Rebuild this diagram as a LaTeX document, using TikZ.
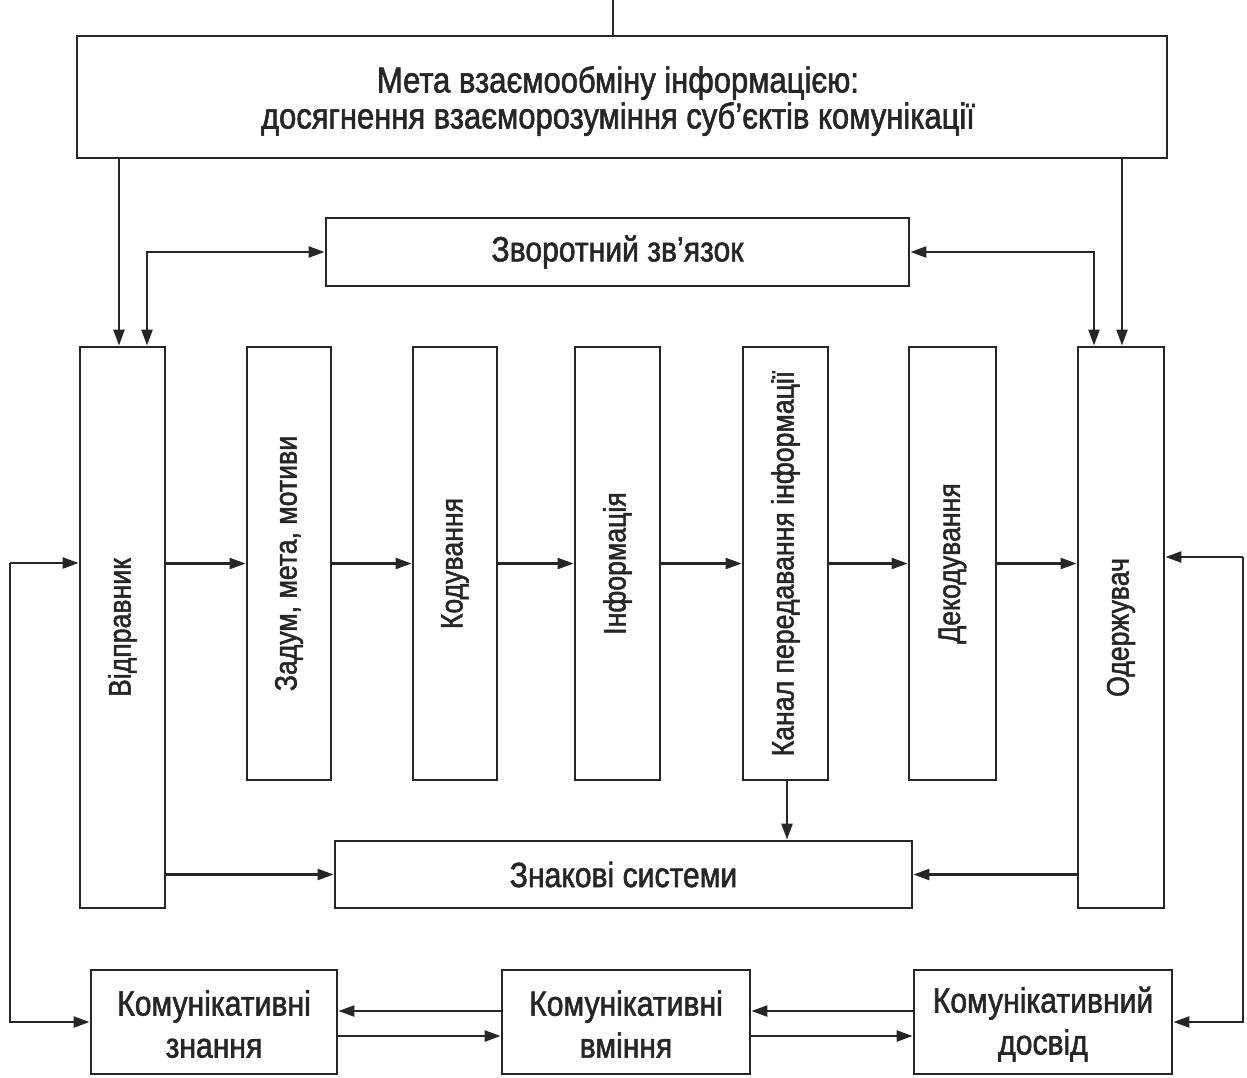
\documentclass[tikz,border=0pt]{standalone}
\usepackage{fontspec}
\setmainfont{Liberation Sans}[FakeStretch=0.86, FakeBold=1.6]
\usetikzlibrary{arrows.meta}
\definecolor{ink}{HTML}{262626}
\tikzset{
  box/.style={draw=ink, line width=2.8pt, inner sep=0pt, anchor=center},
  txt/.style={inner sep=0pt, text=ink, align=center},
  vtext/.style={rotate=90, inner sep=0pt, text=ink, font=\fontsize{31}{36}\selectfont},
  tip/.tip={Triangle[length=16pt,width=11pt]},
  arr/.style={draw=ink, line width=2.3pt, -tip},
  arrb/.style={draw=ink, line width=2.3pt, tip-tip},
  ln/.style={draw=ink, line width=2.3pt},
}
\begin{document}
\begin{tikzpicture}[x=1pt,y=-1pt]
\useasboundingbox (0,0) rectangle (1247,1077);
% boxes
\node[box, minimum width=1090pt, minimum height=122pt] (goal) at (622,97) {};
\node[box, minimum width=583pt, minimum height=68pt] (fb) at (617.5,252) {};
\node[box, minimum width=85pt, minimum height=561pt] (sender) at (122.5,627.5) {};
\node[box, minimum width=84pt, minimum height=433pt] (idea) at (289,563.5) {};
\node[box, minimum width=84pt, minimum height=433pt] (code) at (455,563.5) {};
\node[box, minimum width=85pt, minimum height=433pt] (info) at (617.5,563.5) {};
\node[box, minimum width=85pt, minimum height=433pt] (chan) at (785.5,563.5) {};
\node[box, minimum width=87pt, minimum height=433pt] (decode) at (952.5,563.5) {};
\node[box, minimum width=86pt, minimum height=561pt] (recv) at (1121,627.5) {};
\node[box, minimum width=577pt, minimum height=67pt] (signs) at (623.5,874.5) {};
\node[box, minimum width=246pt, minimum height=104pt] (know) at (214,1022) {};
\node[box, minimum width=248pt, minimum height=104pt] (skill) at (626,1022) {};
\node[box, minimum width=258pt, minimum height=104pt] (exp) at (1043,1022) {};
% texts
\node[txt, font=\fontsize{36}{36}\selectfont] (goal-t) at (618,101)
  {Мета взаємообміну інформацією:\\досягнення взаєморозуміння суб'єктів комунікації};
\node[txt, font=\fontsize{35}{36}\selectfont] (fb-t) at (fb) {Зворотний зв'язок};
\node[txt, font=\fontsize{35}{36}\selectfont] (signs-t) at (signs) {Знакові системи};
\node[txt, font=\fontsize{35}{42}\selectfont] (know-t) at (214,1024) {Комунікативні\\знання};
\node[txt, font=\fontsize{35}{42}\selectfont] (skill-t) at (626,1024) {Комунікативні\\вміння};
\node[txt, font=\fontsize{35}{42}\selectfont] (exp-t) at (1043,1024) {Комунікативний\\досвід};
\node[vtext] (sender-t) at (sender) {Відправник};
\node[vtext] (idea-t) at (idea) {Задум, мета, мотиви};
\node[vtext] (code-t) at (code) {Кодування};
\node[vtext] (info-t) at (info) {Інформація};
\node[vtext] (chan-t) at (chan) {Канал передавання інформації};
\node[vtext] (decode-t) at (decode) {Декодування};
\node[vtext] (recv-t) at (recv) {Одержувач};
% free ends
\coordinate (top) at (613,0);
\coordinate (lin) at (10,563);
\coordinate (rin) at (1243,557);
% connectors
\draw[ln] (top) -- (top |- goal.north);
\draw[arr] ([xshift=-3.5pt]sender.north |- goal.south) -- ([xshift=-3.5pt]sender.north);
\draw[arr] ([xshift=1pt]recv.north |- goal.south) -- ([xshift=1pt]recv.north);
\draw[arrb] (fb.west) -| ([xshift=24.5pt]sender.north);
\draw[arrb] (fb.east) -| ([xshift=-27pt]recv.north);
\draw[arr] (sender.east |- idea.west) -- (idea.west);
\draw[arr] (idea.east) -- (code.west);
\draw[arr] (code.east) -- (info.west);
\draw[arr] (info.east) -- (chan.west);
\draw[arr] (chan.east) -- (decode.west);
\draw[arr] (decode.east) -- (recv.west |- decode.east);
\draw[arr] (lin) -- (sender.west |- lin);
\draw[arr] (lin) |- (know.west);
\draw[arr] (rin) -- (recv.east |- rin);
\draw[arr] (rin) |- (exp.east);
\draw[arr] (sender.east |- signs.west) -- (signs.west);
\draw[arr] (recv.west |- signs.east) -- (signs.east);
\draw[arr] ([xshift=1.5pt]chan.south) -- ([xshift=1.5pt]chan.south |- signs.north);
\draw[arr] ([yshift=11pt]skill.west) -- ([yshift=11pt]know.east);
\draw[arr] ([yshift=-14pt]know.east) -- ([yshift=-14pt]skill.west);
\draw[arr] ([yshift=11pt]exp.west) -- ([yshift=11pt]skill.east);
\draw[arr] ([yshift=-14pt]skill.east) -- ([yshift=-14pt]exp.west);
\end{tikzpicture}
\end{document}
